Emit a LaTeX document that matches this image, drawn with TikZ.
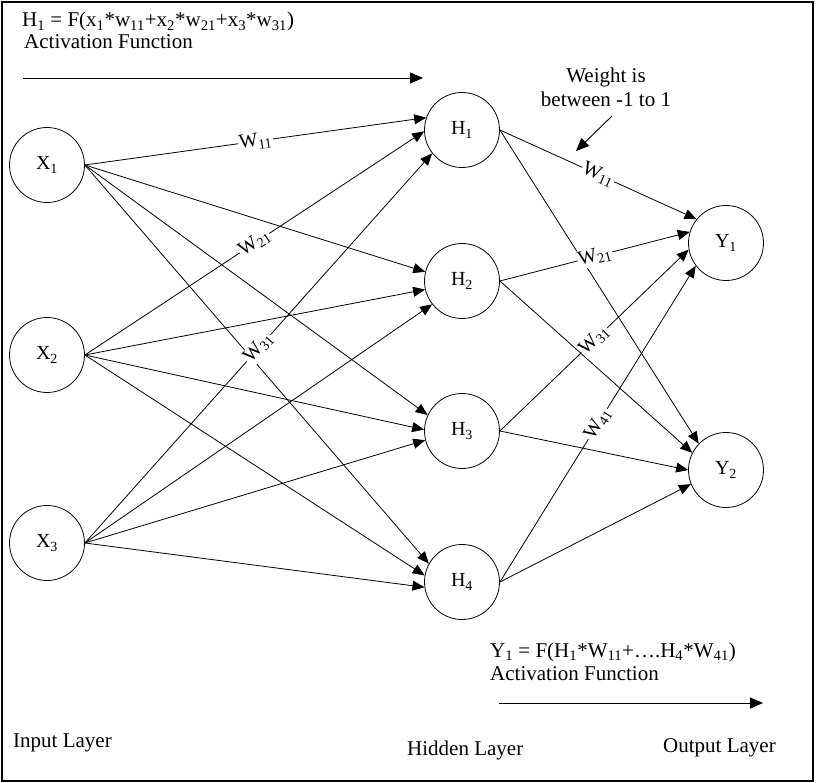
\documentclass[tikz,border=0pt]{standalone}
\usepackage{fontspec}
\setmainfont{Liberation Serif}
\usetikzlibrary{arrows.meta}
\begin{document}
\begin{tikzpicture}[x=1pt,y=-1pt,
  neuron/.style={circle,draw,line width=0.8pt,minimum size=75pt,inner sep=0pt,font=\fontsize{20}{24}\selectfont},
  link/.style={line width=0.8pt,-{Triangle[length=12pt,width=10pt]}},
  bigarrow/.style={line width=0.9pt,-{Triangle[length=13pt,width=11pt]}},
  wlab/.style={fill=white,inner sep=1pt,sloped,pos=0.5,font=\fontsize{20}{24}\selectfont},
  ann/.style={inner sep=0pt,font=\fontsize{21}{24}\selectfont}]
\useasboundingbox (0,0) rectangle (816,783);
\draw[line width=2pt] (2,2) rectangle (813,781);

% neurons
\node[neuron] (X1) at (47,165) {X\textsubscript{1}};
\node[neuron] (X2) at (47,355) {X\textsubscript{2}};
\node[neuron] (X3) at (47,543) {X\textsubscript{3}};
\node[neuron] (H1) at (462,130) {H\textsubscript{1}};
\node[neuron] (H2) at (462,281) {H\textsubscript{2}};
\node[neuron] (H3) at (462,431) {H\textsubscript{3}};
\node[neuron] (H4) at (462,582) {H\textsubscript{4}};
\node[neuron] (Y1) at (726,243) {Y\textsubscript{1}};
\node[neuron] (Y2) at (726,470) {Y\textsubscript{2}};

% input -> hidden
\draw[link] (X1.east) -- (H1.161);
\draw[link] (X2.east) -- (H1.182);
\draw[link] (X3.east) -- (H1.218);
\draw[link] (X1.east) -- (H2.166);
\draw[link] (X2.east) -- (H2.193);
\draw[link] (X3.east) -- (H2.218);
\draw[link] (X1.east) -- (H3.155);
\draw[link] (X2.east) -- (H3.178);
\draw[link] (X3.east) -- (H3.194);
\draw[link] (X1.east) -- (H4.151);
\draw[link] (X2.east) -- (H4.170);
\draw[link] (X3.east) -- (H4.188);

% hidden -> output
\draw[link] (H1.east) -- (Y1.141);
\draw[link] (H2.east) -- (Y1.163);
\draw[link] (H3.east) -- (Y1.190);
\draw[link] (H4.east) -- (Y1.217);
\draw[link] (H1.east) -- (Y2.136);
\draw[link] (H2.east) -- (Y2.153);
\draw[link] (H3.east) -- (Y2.180);
\draw[link] (H4.east) -- (Y2.202);

% weight labels (on top of all lines)
\path (X1.east) -- (H1.161) node[wlab] (w1) {W\textsubscript{11}};
\path (X2.east) -- (H1.182) node[wlab] (w2) {W\textsubscript{21}};
\path (X3.east) -- (H1.218) node[wlab] (w3) {W\textsubscript{31}};
\path (H1.east) -- (Y1.141) node[wlab] (v1) {W\textsubscript{11}};
\path (H2.east) -- (Y1.163) node[wlab] (v2) {W\textsubscript{21}};
\path (H3.east) -- (Y1.190) node[wlab] (v3) {W\textsubscript{31}};
\path (H4.east) -- (Y1.217) node[wlab] (v4) {W\textsubscript{41}};

% top annotation
\node[ann,anchor=base west] (f1) at (22,27) {H\textsubscript{1} = F(x\textsubscript{1}*w\textsubscript{11}+x\textsubscript{2}*w\textsubscript{21}+x\textsubscript{3}*w\textsubscript{31})};
\node[ann,anchor=base west] (a1) at (24,49) {Activation Function};
\coordinate (ta) at (23,78);
\coordinate (tb) at (423,78);
\draw[bigarrow] (ta) -- (tb);

% weight note
\node[ann,anchor=base] (wn1) at (606,83) {Weight is};
\node[ann,anchor=base] (wn2) at (606,107) {between -1 to 1};
\coordinate (wa) at (612,116);
\coordinate (wb) at (576,151);
\draw[bigarrow] (wa) -- (wb);

% bottom annotation
\node[ann,anchor=base west] (f2) at (490,657) {Y\textsubscript{1} = F(H\textsubscript{1}*W\textsubscript{11}+….H\textsubscript{4}*W\textsubscript{41})};
\node[ann,anchor=base west] (a2) at (490,680) {Activation Function};
\coordinate (ba) at (499,703);
\coordinate (bb) at (763,703);
\draw[bigarrow] (ba) -- (bb);

% layer captions
\node[ann,anchor=base west] (l1) at (13,747) {Input Layer};
\node[ann,anchor=base west] (l2) at (407,755) {Hidden Layer};
\node[ann,anchor=base west] (l3) at (663,752) {Output Layer};
\end{tikzpicture}
\end{document}
